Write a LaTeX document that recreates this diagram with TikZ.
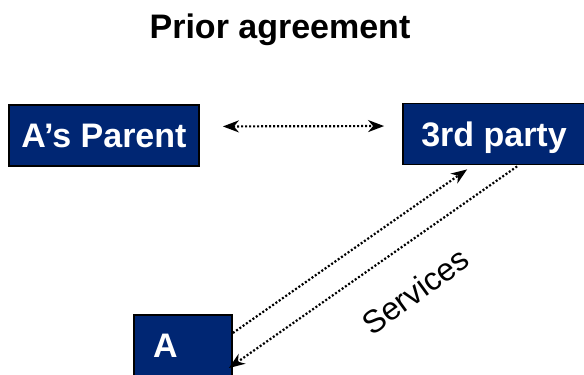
\documentclass[tikz,border=0pt]{standalone}
\usepackage{fontspec}
\setmainfont{Liberation Sans}
\usetikzlibrary{calc,arrows.meta}
\definecolor{boxblue}{RGB}{0,38,115}
\tikzset{
	box/.style={draw=black, line width=1.8pt, fill=boxblue, text=white,
		font=\fontsize{34}{40}\selectfont\bfseries, inner sep=0pt,
		minimum height=61pt, text height=24.3pt, text depth=0pt},
	link/.style={line width=2.2pt, dash pattern=on 2pt off 2pt,
		-{Stealth[length=16pt,width=12pt,inset=5pt]}},
}
\begin{document}
\begin{tikzpicture}[x=1pt,y=1pt]
		\useasboundingbox (0,0) rectangle (584,375);
		% 各框的位置
		\coordinate (T) at(280,345);
		\coordinate (P) at(104,239.5);
		\coordinate (Q) at(494,241);
		\coordinate (R) at(183,29.5);
		
		% 标题与三个框
		\node[font=\fontsize{34}{40}\selectfont\bfseries] (title) at(T) {Prior agreement};
		\node[box, minimum width=190pt] (parent) at(P) {A’s Parent};
		\node[box, minimum width=182pt] (third) at(Q) {3rd party};
		\node[box, text width=60pt, inner xsep=19pt, align=left] (a) at(R) {A};
		
		% 连线
		\draw[link, {Stealth[length=16pt,width=12pt,inset=5pt]}-{Stealth[length=16pt,width=12pt,inset=5pt]}, shorten <=23pt, shorten >=18pt]
			([yshift=9pt]parent.east) -- ([yshift=8pt]third.west);
		\draw[link] ([yshift=12.5pt]a.east) -- ($(third.south west)+(65,-4)$);
		\draw[link] ($(third.south west)+(115,-1)$) -- ($(a.east)+(-4,-22.5)$);
		
		\node[font=\fontsize{32}{38}\selectfont, rotate=36] (services) at(415,84) {Services};
		
	\end{tikzpicture}
\end{document}
